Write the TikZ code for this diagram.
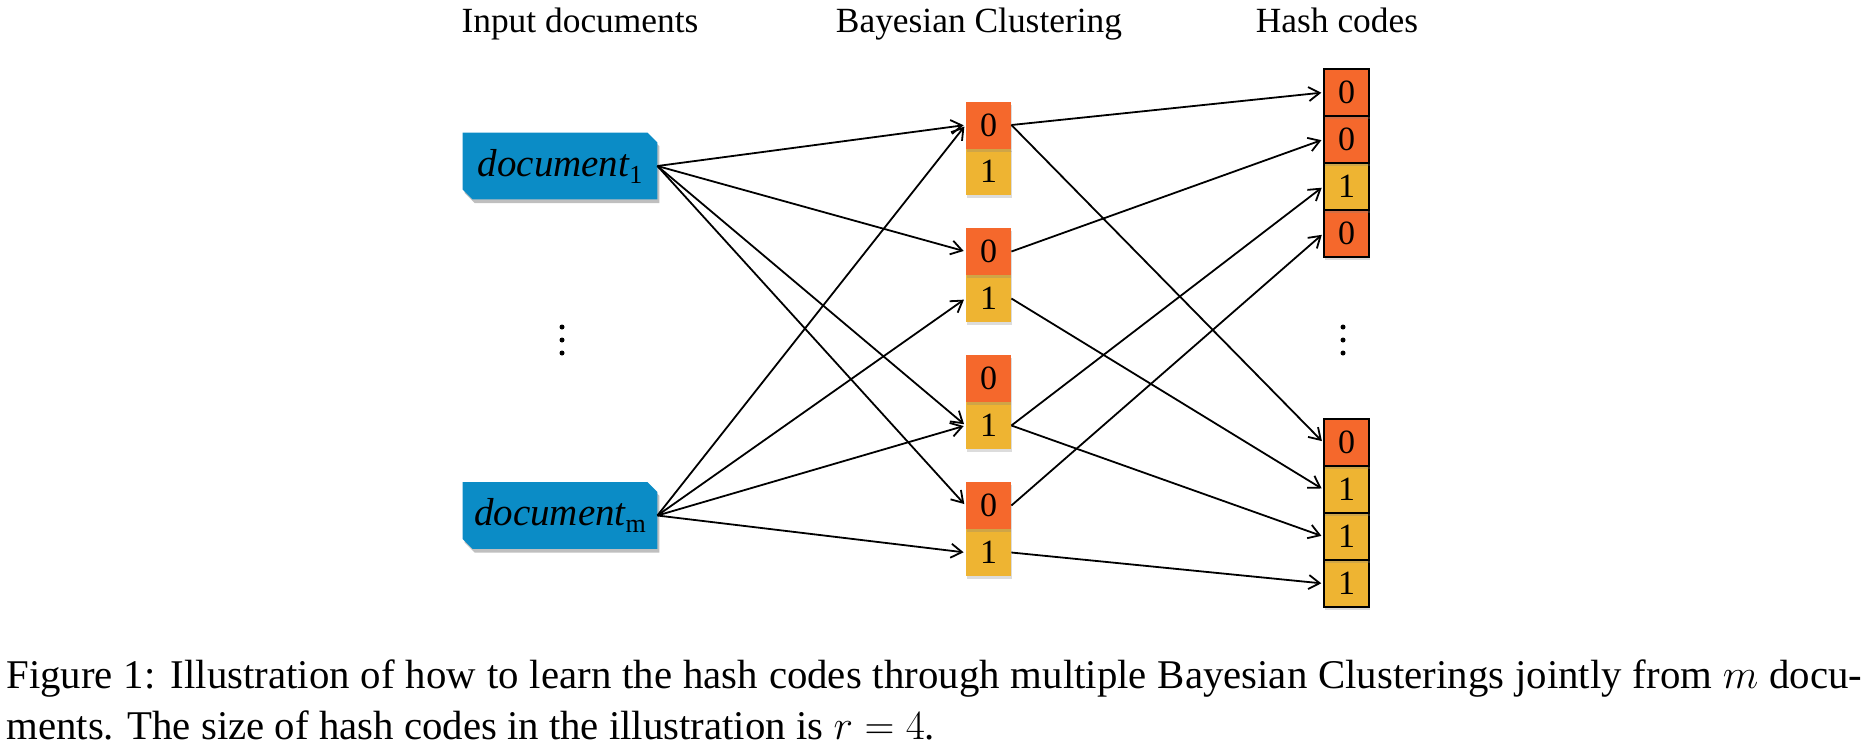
\documentclass[tikz,border=0pt]{standalone}
\usepackage{fontspec}
\setmainfont{Liberation Serif}
\usetikzlibrary{arrows.meta,shadows,backgrounds}
\definecolor{docblue}{RGB}{11,140,198}
\definecolor{bitorange}{RGB}{245,104,44}
\definecolor{bityellow}{RGB}{238,180,50}
\tikzset{
  shad/.style={drop shadow={shadow xshift=0.6pt,shadow yshift=-1.6pt,opacity=0.28}},
  cellbase/.style={minimum width=22.5pt,minimum height=23.5pt,inner sep=0pt,
    font=\fontsize{17}{17}\selectfont},
  czero/.style={cellbase,fill=bitorange,shad},
  cone/.style={cellbase,fill=bityellow,shad},
  hzero/.style={czero,draw=black,line width=0.7pt},
  hone/.style={cone,draw=black,line width=0.7pt},
  doctext/.style={minimum width=97pt,minimum height=33pt,inner sep=0pt,
    font=\fontsize{19.5}{19.5}\selectfont},
  header/.style={anchor=base,font=\fontsize{17.7}{17.7}\selectfont},
  capline/.style={anchor=base west,inner sep=0pt,font=\fontsize{20.4}{22}\selectfont},
  conn/.style={-{Straight Barb[length=5.5pt,width=7pt]},line width=0.9pt,shorten >=1pt},
  dotmark/.style={circle,fill=black,inner sep=0pt,minimum size=2.5pt}
}
\newcommand\docsub[1]{\raisebox{-3.5pt}{\upshape\fontsize{13}{13}\selectfont #1}}
\begin{document}
\begin{tikzpicture}[x=0.5pt,y=-0.5pt]
\useasboundingbox (0,0) rectangle (1871,751);

% headers
\node[header] (h1) at (580,32) {Input documents};
\node[header] (h2) at (979,32) {Bayesian Clustering};
\node[header] (h3) at (1337,32) {Hash codes};

% documents
\node[doctext] (doc1) at (560,166) {\itshape document\docsub{1}};
\node[doctext] (docm) at (560,515.5) {\itshape document\docsub{m}};
\begin{scope}[on background layer]
\foreach \d in {doc1,docm}{
  \fill[black,opacity=.25]
    ([xshift=1pt,yshift=-1.8pt]\d.north west) -- ([xshift=-4pt,yshift=-1.8pt]\d.north east)
    -- ([xshift=1pt,yshift=-6.8pt]\d.north east) -- ([xshift=1pt,yshift=-1.8pt]\d.south east)
    -- ([xshift=6pt,yshift=-1.8pt]\d.south west) -- ([xshift=1pt,yshift=3.2pt]\d.south west) -- cycle;
  \fill[docblue]
    (\d.north west) -- ([xshift=-5pt]\d.north east) -- ([yshift=-5pt]\d.north east)
    -- (\d.south east) -- ([xshift=5pt]\d.south west) -- ([yshift=5pt]\d.south west) -- cycle;
}
\end{scope}

% vertical dots
\foreach \yy [count=\i] in {327,340,353}{
  \node[dotmark] (dl\i) at (562,\yy) {};
  \node[dotmark] (dr\i) at (1343,\yy) {};
}

% clusters (lower cell first so upper shadow overlays)
\node[cone]  (c1b) at (988.5,171.5) {1};
\node[czero] (c1a) at (988.5,125)   {0};
\node[cone]  (c2b) at (988.5,298.5) {1};
\node[czero] (c2a) at (988.5,251.5) {0};
\node[cone]  (c3b) at (988.5,425.5) {1};
\node[czero] (c3a) at (988.5,378.5) {0};
\node[cone]  (c4b) at (988.5,552.5) {1};
\node[czero] (c4a) at (988.5,505.5) {0};

% hash codes column 1: 0 0 1 0
\node[hzero] (p4) at (1346.5,233.5) {0};
\node[hone]  (p3) at (1346.5,186.5) {1};
\node[hzero] (p2) at (1346.5,139.5) {0};
\node[hzero] (p1) at (1346.5,92.5)  {0};
% hash codes column 2: 0 1 1 1
\node[hone]  (q4) at (1346.5,583.5) {1};
\node[hone]  (q3) at (1346.5,536.5) {1};
\node[hone]  (q2) at (1346.5,489.5) {1};
\node[hzero] (q1) at (1346.5,442.5) {0};

% documents -> clusters
\draw[conn] (doc1.east) -- (c1a.west);
\draw[conn] (doc1.east) -- (c2a.west);
\draw[conn] (doc1.east) -- (c3b.west);
\draw[conn] (doc1.east) -- (c4a.west);
\draw[conn] (docm.east) -- (c1a.west);
\draw[conn] (docm.east) -- (c2b.west);
\draw[conn] (docm.east) -- (c3b.west);
\draw[conn] (docm.east) -- (c4b.west);

% clusters -> hash codes
\draw[conn] (c1a.east) -- (p1.west);
\draw[conn] (c1a.east) -- (q1.west);
\draw[conn] (c2a.east) -- (p2.west);
\draw[conn] (c2b.east) -- (q2.west);
\draw[conn] (c3b.east) -- (p3.west);
\draw[conn] (c3b.east) -- (q3.west);
\draw[conn] (c4a.east) -- (p4.west);
\draw[conn] (c4b.east) -- (q4.west);

% caption
\node[capline] (cap1) at (6,688) {\makebox[928pt][s]{Figure 1: Illustration of how to learn the hash codes through multiple Bayesian Clusterings jointly from $m$ docu-}};
\node[capline] (cap2) at (6,739) {ments. The size of hash codes in the illustration is $r=4$.};
\end{tikzpicture}
\end{document}
